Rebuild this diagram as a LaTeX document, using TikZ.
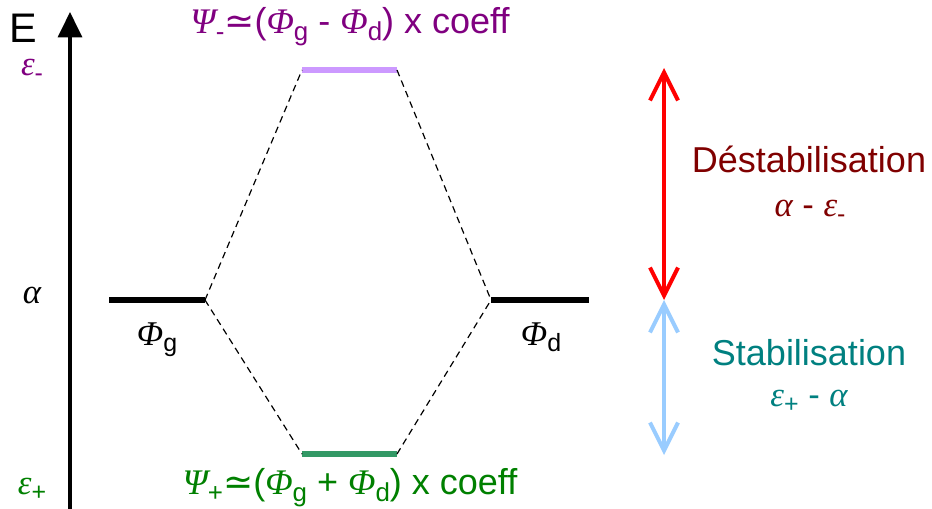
\documentclass[tikz,border=0pt]{standalone}
\usepackage{fontspec}
\setmainfont{Liberation Sans}
\newfontfamily\grkfont{Liberation Serif}
\newfontfamily\symfont{DejaVu Sans}
\usetikzlibrary{arrows.meta}
\newcommand{\gk}[1]{{\grkfont\itshape #1}}
\newcommand{\lo}[1]{\raisebox{-0.2em}{\scalebox{0.72}{#1}}}
\definecolor{cpurple}{HTML}{800080}
\definecolor{clilac}{HTML}{CC99FF}
\definecolor{cgreen}{HTML}{008000}
\definecolor{cgreenline}{HTML}{339966}
\definecolor{cred}{HTML}{FF0000}
\definecolor{cblue}{HTML}{99CCFF}
\definecolor{cdarkred}{HTML}{800000}
\definecolor{cteal}{HTML}{008080}
\tikzset{
  lbl/.style={inner sep=0pt, anchor=base},
  level/.style={line width=3.8pt},
  corr/.style={dashed, line width=0.9pt, dash pattern=on 5pt off 3.5pt},
  gap/.style={line width=3pt, {Straight Barb[length=21pt,width=21pt,line width=3pt]}-{Straight Barb[length=21pt,width=21pt,line width=3pt]}},
}
\begin{document}
\begin{tikzpicture}[x=0.75pt,y=-0.75pt]
\useasboundingbox (0,0) rectangle (932,508);
% axis
\coordinate (ax0) at (70,510);
\coordinate (ax1) at (70,12);
\draw[line width=2.3pt, -{Triangle[length=19pt,width=18pt]}] (ax0) -- (ax1);
\node[lbl] (E) at (23,42) {\fontsize{31}{34}\selectfont E};
\node[lbl, text=cpurple] (em) at (32,75) {\fontsize{26}{30}\selectfont \gk{ε}\lo{-}};
\node[lbl] (al) at (32,303) {\fontsize{26}{30}\selectfont \gk{α}};
\node[lbl, text=cgreen] (ep) at (32,494) {\fontsize{26}{30}\selectfont \gk{ε}\lo{+}};
% levels
\coordinate (g1) at (109,300); \coordinate (g2) at (205,300);
\coordinate (d1) at (491,300); \coordinate (d2) at (589,300);
\coordinate (m1) at (302,70);  \coordinate (m2) at (397,70);
\coordinate (p1) at (302,454); \coordinate (p2) at (397,454);
\draw[level] (g1) -- (g2);
\draw[level] (d1) -- (d2);
\draw[level, clilac] (m1) -- (m2);
\draw[level, cgreenline] (p1) -- (p2);
\draw[corr] (g2) -- (m1);
\draw[corr] (m2) -- (d1);
\draw[corr] (g2) -- (p1);
\draw[corr] (p2) -- (d1);
\node[lbl] (phg) at (157,345) {\fontsize{26}{30}\selectfont \gk{Φ}\lo{g}};
\node[lbl] (phd) at (541,345) {\fontsize{26}{30}\selectfont \gk{Φ}\lo{d}};
\node[lbl, text=cpurple] (psim) at (350,33) {\fontsize{27}{31}\selectfont \gk{Ψ}\lo{-}{\symfont ≃}(\gk{Φ}\lo{g} - \gk{Φ}\lo{d}) x coeff};
\node[lbl, text=cgreen] (psip) at (350,494) {\fontsize{27}{31}\selectfont \gk{Ψ}\lo{+}{\symfont ≃}(\gk{Φ}\lo{g} + \gk{Φ}\lo{d}) x coeff};
% gaps
\coordinate (r1) at (664,68);
\coordinate (r2) at (664,300);
\coordinate (b2) at (664,455);
\draw[gap, cred] (r1) -- (r2);
\draw[gap, cblue] (r2) -- (b2);
\node[lbl, text=cdarkred] (dest) at (809,172) {\fontsize{27}{30}\selectfont Déstabilisation};
\node[lbl, text=cdarkred] (destv) at (810,216) {\fontsize{26}{30}\selectfont \gk{α} - \gk{ε}\lo{-}};
\node[lbl, text=cteal] (stab) at (809,365) {\fontsize{27}{30}\selectfont Stabilisation};
\node[lbl, text=cteal] (stabv) at (809,406) {\fontsize{26}{30}\selectfont \gk{ε}\lo{+} - \gk{α}};
\end{tikzpicture}
\end{document}
